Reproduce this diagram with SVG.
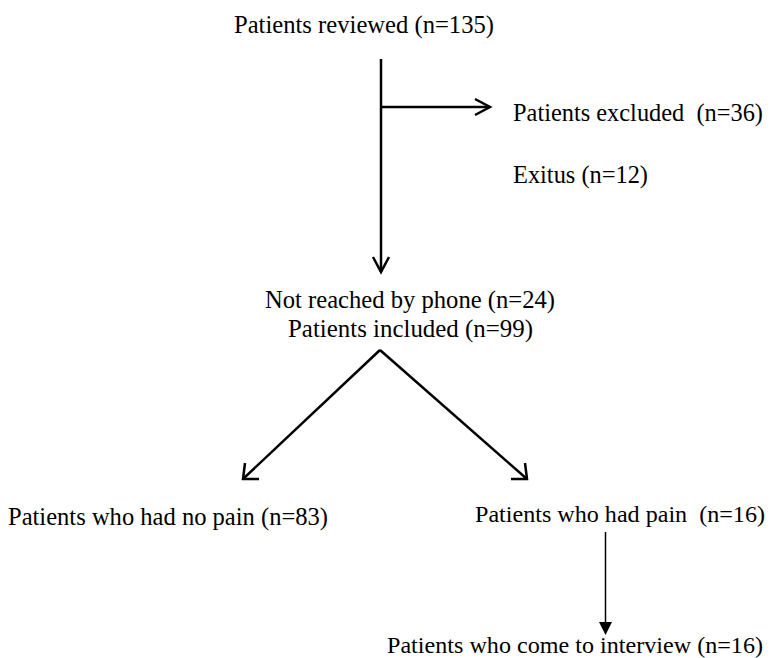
<svg xmlns="http://www.w3.org/2000/svg" width="772" height="658" viewBox="0 0 772 658">
<style>
text{font-family:"Liberation Serif","Times New Roman",serif;font-size:25px;fill:#000;white-space:pre}
.s{font-size:24px}
.c{fill:none;stroke:#000;stroke-width:2.5;stroke-linecap:butt}
.h{fill:none;stroke:#000;stroke-width:2.5;stroke-linejoin:miter}
.t{fill:none;stroke:#000;stroke-width:1.5}
</style>
<rect width="772" height="658" fill="#fff"/>
<g id="connectors">
<line class="c" x1="381" y1="59" x2="381" y2="272"/>
<polyline class="h" points="373,257 381,272 389,257"/>
<line class="c" x1="381" y1="107" x2="490" y2="107"/>
<polyline class="h" points="475,99 490,107 475,115"/>
<line class="c" x1="380" y1="350" x2="243" y2="479"/>
<polyline class="h" points="245,463 243,479 259,479"/>
<line class="c" x1="380" y1="350" x2="527" y2="479"/>
<polyline class="h" points="511,479 527,479 525,463"/>
<line class="t" x1="605.5" y1="532" x2="605.5" y2="623"/>
<polygon points="599,622 612,622 605.5,635" fill="#000"/>
</g>
<g id="n-reviewed"><text x="234" y="33" textLength="260" lengthAdjust="spacingAndGlyphs">Patients reviewed (n=135)</text></g>
<g id="n-excluded"><text x="513" y="121" textLength="250" lengthAdjust="spacingAndGlyphs">Patients excluded  (n=36)</text></g>
<g id="n-exitus"><text x="513" y="183" textLength="135" lengthAdjust="spacingAndGlyphs">Exitus (n=12)</text></g>
<g id="n-included">
<text x="265" y="308" textLength="290" lengthAdjust="spacingAndGlyphs">Not reached by phone (n=24)</text>
<text x="288" y="337" textLength="245" lengthAdjust="spacingAndGlyphs">Patients included (n=99)</text>
</g>
<g id="n-nopain"><text x="8" y="525" textLength="320" lengthAdjust="spacingAndGlyphs">Patients who had no pain (n=83)</text></g>
<g id="n-pain"><text class="s" x="475" y="522" textLength="290" lengthAdjust="spacingAndGlyphs">Patients who had pain  (n=16)</text></g>
<g id="n-interview"><text class="s" x="387" y="653" textLength="376" lengthAdjust="spacingAndGlyphs">Patients who come to interview (n=16)</text></g>
</svg>
